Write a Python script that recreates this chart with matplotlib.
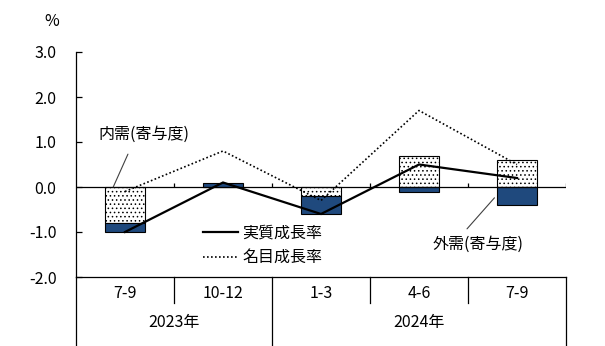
import matplotlib
matplotlib.use('Agg')
import matplotlib.pyplot as plt
import matplotlib.transforms as mtransforms
import numpy as np

plt.rcParams['font.family'] = ['Noto Sans CJK JP', 'DejaVu Sans']
plt.rcParams['hatch.linewidth'] = 0.6

# data (percent, quarter on quarter)
quarters = ['7-9', '10-12', '1-3', '4-6', '7-9']
years = ['2023年', '2024年']
year_spans = [2, 3]  # number of quarters under each year
domestic = np.array([-0.8, 0.0, -0.2, 0.7, 0.6])   # 内需(寄与度)
external = np.array([-0.2, 0.1, -0.4, -0.1, -0.4])  # 外需(寄与度)
real_growth = np.array([-1.0, 0.1, -0.6, 0.5, 0.2])     # 実質成長率
nominal_growth = np.array([-0.1, 0.8, -0.3, 1.7, 0.5])  # 名目成長率
yticks = [-2.0, -1.0, 0.0, 1.0, 2.0, 3.0]

navy = '#1f497d'
fs = 11.5

fig = plt.figure(figsize=(6.05, 3.46), dpi=100)
ax = fig.add_axes([76 / 605, 1 - 277 / 346, 490 / 605, 225 / 346])

x = np.arange(len(quarters)) + 0.5

# stacked bars: external stacks onto domestic only when they share sign
ext_bottom = np.where(np.sign(external) == np.sign(domestic), domestic, 0.0)
ax.bar(x, domestic, width=0.4, color='white', edgecolor='black', hatch='....',
       linewidth=0.8, zorder=2)
ax.bar(x, external, bottom=ext_bottom, width=0.4, color=navy, edgecolor='black',
       linewidth=0.8, zorder=2)

ax.axhline(0, color='black', lw=0.9, zorder=3)

ln_real, = ax.plot(x, real_growth, color='black', lw=1.6, zorder=4,
                   solid_joinstyle='miter')
ln_nom, = ax.plot(x, nominal_growth, color='black', lw=1.2, zorder=4,
                  linestyle=(0, (1, 1.4)))

ax.set_xlim(0, len(quarters))
ax.set_ylim(-2, 3)
ax.set_yticks(yticks)
ax.set_yticklabels([f"{v:.1f}" for v in yticks], fontsize=fs)
ax.tick_params(axis='y', direction='in', length=4, width=0.9, pad=14)
ax.set_xticks([])
for s in ['top', 'right']:
    ax.spines[s].set_visible(False)
ax.spines['left'].set_linewidth(0.9)
ax.spines['bottom'].set_linewidth(0.9)

# small ticks on the zero line at category boundaries
bounds = np.arange(1, len(quarters) + 1)
ax.vlines(bounds, 0, 0.08, color='black', lw=0.9, zorder=3)

# category axis below the plot
trans = mtransforms.blended_transform_factory(ax.transData, ax.transAxes)
year_edges = np.concatenate([[0], np.cumsum(year_spans)])
for b in range(0, len(quarters) + 1):
    depth = -0.48 if b in year_edges else -0.115
    ax.plot([b, b], [0, depth], transform=trans, color='black', lw=0.9,
            clip_on=False)
for xi, q in zip(x, quarters):
    ax.text(xi, -0.075, q, transform=trans, ha='center', va='center', fontsize=fs)
for i, yl in enumerate(years):
    xc = (year_edges[i] + year_edges[i + 1]) / 2
    ax.text(xc, -0.2, yl, transform=trans, ha='center', va='center', fontsize=fs)

fig.text(52 / 605, 1 - 22 / 346, '%', ha='center', va='center', fontsize=fs)

# legend
ax.legend([ln_real, ln_nom], ['実質成長率', '名目成長率'], frameon=False,
          loc='upper left', bbox_to_anchor=(203 / 605, 1 - 225 / 346),
          bbox_transform=fig.transFigure, fontsize=fs, handlelength=2.2,
          handletextpad=0.25, labelspacing=0.45, borderpad=0, borderaxespad=0)

# annotations with leader lines
ax.text(0.69, 1.18, '内需(寄与度)', ha='center', va='center', fontsize=fs)
ax.annotate('', xy=(0.38, 0.0), xytext=(0.53, 0.73),
            arrowprops=dict(arrowstyle='-', color='#404040', lw=0.8,
                            shrinkA=0, shrinkB=0))
ax.text(4.10, -1.27, '外需(寄与度)', ha='center', va='center', fontsize=fs)
ax.annotate('', xy=(4.27, -0.24), xytext=(3.99, -0.93),
            arrowprops=dict(arrowstyle='-', color='#404040', lw=0.8,
                            shrinkA=0, shrinkB=0))

fig.savefig('out.png', dpi=100)
